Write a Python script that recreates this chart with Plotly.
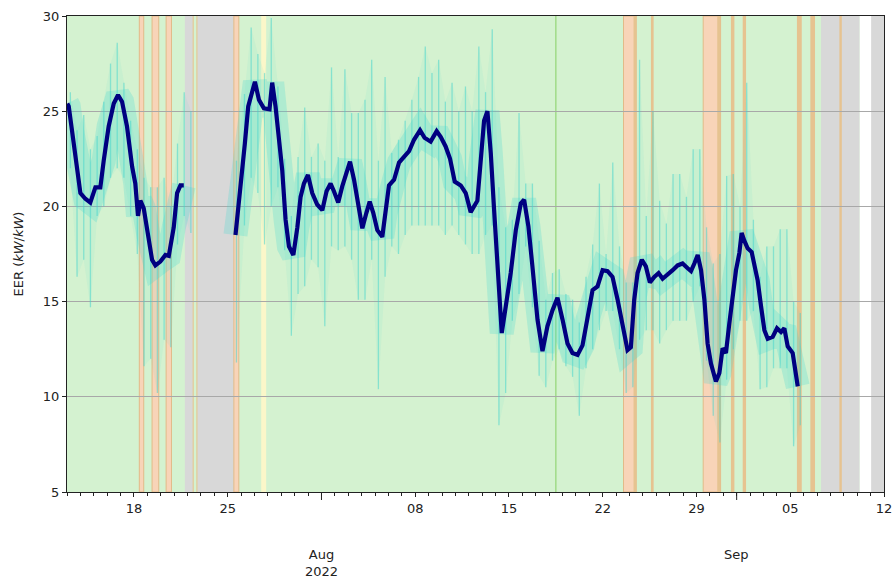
import pandas as pd
import plotly.graph_objects as go

START = pd.Timestamp("2022-07-13")
X_END_DAY = 61.0

# ---- smoothed EER (navy line): day offset from START, value (None = gap)
line_day = [0.02, 0.13, 0.37, 0.62, 1.0, 1.37, 1.74, 2.12, 2.49, 2.74, 3.11, 3.49, 3.81, 4.11, 4.48,
            4.86, 5.1, 5.3, 5.48, 5.73, 6.1, 6.35, 6.6, 6.97, 7.35, 7.6, 7.97, 8.22, 8.47, 8.72,
            10.6,
            12.58, 12.83, 13.08, 13.28, 13.53, 13.78, 14.03, 14.33, 14.7, 15.12, 15.32, 15.57, 15.82,
            16.07, 16.32, 16.57, 16.9, 17.2, 17.44, 17.69, 17.99, 18.31, 18.68, 19.06, 19.38, 19.68,
            19.93, 20.25, 20.55, 20.8, 21.13, 21.43, 21.73, 22.05, 22.35, 22.6, 22.87, 23.17, 23.54,
            23.79, 24.04, 24.42, 24.79, 25.16, 25.54, 25.91, 26.36, 26.7, 27.15, 27.6, 27.9, 28.27,
            28.6, 28.95, 29.4, 29.77, 30.14, 30.64, 30.89, 31.14, 31.39, 31.64, 31.89, 32.14, 32.46,
            32.76, 33.13, 33.51, 33.88, 34.13, 34.45, 34.75, 35.13, 35.5, 35.87, 36.25, 36.62, 37.0,
            37.37, 37.74, 38.12, 38.49, 38.86, 39.24, 39.61, 39.99, 40.36, 40.73, 41.11, 41.48, 41.85,
            42.1, 42.35, 42.6, 42.92, 43.22, 43.52, 43.85, 44.17, 44.47, 44.84, 45.22, 45.59, 45.96,
            46.34, 46.59, 46.84, 47.09, 47.34, 47.59, 47.83, 48.08, 48.45, 48.71, 48.95, 49.2, 49.45,
            49.7, 49.95, 50.2, 50.37, 50.57, 50.82, 51.12, 51.37, 51.57, 51.82, 52.07, 52.32, 52.69,
            53.01, 53.31, 53.56, 53.81, 54.18, 54.36, 54.56]
line_eer = [25.4, 25.25, 24.0, 22.6, 20.7, 20.4, 20.2, 21.0, 21.0, 22.4, 24.2, 25.4, 25.85, 25.5, 24.2,
            22.1, 21.2, 19.5, 20.3, 19.9, 18.4, 17.2, 16.9, 17.1, 17.45, 17.4, 18.9, 20.7, 21.1, 21.1,
            None,
            18.5, 20.2, 21.6, 23.3, 25.25, 25.95, 26.55, 25.6, 25.15, 25.1, 26.5, 25.25, 23.7,
            21.9, 19.3, 17.9, 17.45, 18.9, 20.5, 21.2, 21.65, 20.7, 20.1, 19.8, 20.8, 21.2,
            20.8, 20.2, 21.05, 21.65, 22.35, 21.4, 20.0, 18.85, 19.65, 20.25, 19.65, 18.75, 18.4,
            19.65, 21.1, 21.4, 22.3, 22.6, 22.9, 23.5, 24.0, 23.6, 23.4, 23.95, 23.65, 23.15,
            22.5, 21.3, 21.1, 20.7, 19.7, 20.3, 22.4, 24.5, 25.0, 22.8, 19.8, 16.85, 13.35,
            14.75, 16.5, 18.75, 20.15, 20.35, 18.95, 16.85, 14.05, 12.4, 13.7, 14.55, 15.2, 14.05,
            12.8, 12.3, 12.2, 12.7, 14.05, 15.6, 15.8, 16.65, 16.6, 16.3, 15.1, 13.7, 12.45,
            12.6, 15.1, 16.5, 17.2, 16.85, 16.0, 16.3, 16.5, 16.2, 16.4, 16.65, 16.9, 17.0,
            16.75, 16.6, 17.0, 17.45, 16.65, 15.1, 12.8, 11.75, 10.8, 11.25, 12.55, 12.3, 13.85,
            15.45, 16.65, 17.55, 18.6, 18.2, 17.8, 17.6, 16.85, 16.1, 14.75, 13.5, 13.05, 13.15,
            13.6, 13.4, 13.6, 12.65, 12.3, 11.4, 10.55]

# ---- raw EER cloud (cyan): half-day bin centres, observed min / max
cloud_day = [0.25, 0.75, 1.25, 1.75, 2.25, 2.75, 3.25, 3.75, 4.25, 4.75, 5.25, 5.75, 6.25, 6.75,
             7.25, 7.75, 8.25, 8.75, 9.25,
             12.65, 13.25, 13.75, 14.25, 14.75, 15.25, 15.75, 16.25, 16.75, 17.25, 17.75, 18.25,
             18.75, 19.25, 19.75, 20.25, 20.75, 21.25, 21.75, 22.25, 22.75, 23.25, 23.75, 24.25,
             24.75, 25.25, 25.75, 26.25, 26.75, 27.25, 27.75, 28.25, 28.75, 29.25, 29.75, 30.25,
             30.75, 31.25, 31.75, 32.25, 32.75, 33.25, 33.75, 34.25, 34.75, 35.25, 35.75, 36.25,
             36.75, 37.25, 37.75, 38.25, 38.75, 39.25, 39.75, 40.25, 40.75, 41.25, 41.75, 42.25,
             42.75, 43.25, 43.75, 44.25, 44.75, 45.25, 45.75, 46.25, 46.75, 47.25, 47.75, 48.25,
             48.75, 49.25, 49.75, 50.25, 50.75, 51.25, 51.75, 52.25, 52.75, 53.25, 53.75, 54.25,
             54.75]
cloud_lo = [22.0, 16.3, 17.2, 14.7, 19.5, 20.0, 21.5, 22.0, 21.5, 19.5, 17.5, 11.6, 12.0, 10.2,
            13.0, 12.6, 18.0, 19.5, 18.6,
            11.8, 19.0, 21.5, 20.7, 18.0, 20.0, 21.0, 17.7, 13.2, 15.4, 15.8, 17.2,
            16.8, 13.7, 17.9, 17.7, 17.9, 17.2, 15.1, 15.1, 17.2, 10.4, 16.3, 17.9,
            17.5, 18.5, 19.0, 19.0, 19.0, 19.0, 19.0, 18.5, 19.0, 18.5, 18.0, 17.5,
            17.5, 18.5, 19.0, 8.5, 10.2, 14.0, 15.4, 17.9, 14.7, 11.1, 10.5, 11.9,
            12.5, 11.6, 11.05, 9.0, 11.5, 12.5, 13.5, 14.5, 14.5, 12.5, 10.2, 10.5,
            13.0, 13.5, 13.5, 12.8, 13.5, 14.0, 14.0, 14.0, 15.0, 15.8, 11.9, 9.0,
            7.6, 10.9, 12.5, 14.0, 14.0, 14.5, 10.4, 10.5, 11.5, 11.5, 11.5, 7.4,
            8.5]
cloud_hi = [26.0, 24.0, 24.8, 23.0, 23.7, 25.5, 27.5, 28.6, 26.5, 24.5, 23.0, 21.5, 21.0, 21.0,
            21.5, 20.0, 23.3, 26.0, 25.0,
            22.4, 25.9, 29.4, 28.0, 27.0, 29.9, 26.3, 22.5, 19.5, 22.6, 25.2, 22.6,
            23.3, 22.4, 27.3, 22.6, 27.2, 24.9, 24.9, 25.6, 27.7, 22.4, 26.8, 22.8,
            23.5, 24.5, 25.6, 26.8, 28.4, 27.0, 27.7, 25.5, 26.5, 25.0, 26.3, 25.0,
            28.4, 26.0, 29.3, 21.0, 18.9, 19.3, 24.9, 21.2, 21.2, 18.2, 15.1, 16.5,
            16.7, 15.4, 15.1, 13.9, 16.3, 18.0, 21.2, 17.5, 22.3, 17.9, 16.0, 16.0,
            27.7, 19.5, 25.0, 20.3, 19.1, 21.7, 21.7, 20.5, 23.0, 23.0, 18.9, 17.0,
            17.5, 21.6, 21.7, 20.0, 26.5, 19.3, 16.3, 17.9, 17.9, 18.8, 18.8, 15.0,
            14.4]

# ---- operating-state background periods (day offsets)
normal_period = [(0.0, 59.17)]
offline_periods = [(8.8, 9.4), (9.72, 12.46), (56.3, 59.17), (60.04, 61.0)]
alarm_periods = [(5.40, 5.73), (6.35, 6.85), (7.40, 7.80), (12.46, 12.83), (41.55, 42.5), (47.5, 48.8)]
event_periods = [(9.38, 9.46), (9.66, 9.74), (42.3, 42.5), (43.6, 43.8), (48.55, 48.8), (49.57, 49.83),
                 (50.45, 50.7), (54.5, 54.86), (55.5, 55.85), (57.67, 57.85)]
warning_periods = [(14.5, 14.87)]
marker_day = [36.5]

week_ticks = [5, 12, 26, 33, 40, 47, 54, 61]
week_labels = ["18", "25", "08", "15", "22", "29", "05", "12"]
month_ticks = [19, 50]
month_labels = ["Aug<br>2022", "Sep"]


def T(d):
    return START + pd.Timedelta(days=d)


fig = go.Figure()

# cloud haze (split into continuous segments)
segs, cur = [], [0]
for i in range(1, len(cloud_day)):
    if cloud_day[i] - cloud_day[i - 1] > 1.0:
        segs.append(cur)
        cur = []
    cur.append(i)
segs.append(cur)
for seg in segs:
    xs = [T(cloud_day[i]) for i in seg] + [T(cloud_day[i]) for i in reversed(seg)]
    ys = [cloud_hi[i] for i in seg] + [cloud_lo[i] for i in reversed(seg)]
    fig.add_trace(go.Scatter(x=xs, y=ys, fill="toself", mode="lines", line=dict(width=0),
                             fillcolor="rgba(64,216,208,0.08)", hoverinfo="skip", showlegend=False))

# cloud streaks
sx, sy = [], []
for d, lo, hi in zip(cloud_day, cloud_lo, cloud_hi):
    sx += [T(d), T(d), None]
    sy += [lo, hi, None]
fig.add_trace(go.Scatter(x=sx, y=sy, mode="lines", line=dict(color="rgba(64,212,206,0.5)", width=1.3),
                         hoverinfo="skip", showlegend=False))

# dense core around the smoothed curve
lx = [T(d) for d in line_day]
fig.add_trace(go.Scatter(x=lx, y=line_eer, mode="lines", connectgaps=False,
                         line=dict(color="rgba(64,216,208,0.25)", width=24),
                         hoverinfo="skip", showlegend=False))
# smoothed line
fig.add_trace(go.Scatter(x=lx, y=line_eer, mode="lines", connectgaps=False,
                         line=dict(color="#000080", width=4.2), showlegend=False))

shapes = []


def vband(a, b, fill, line=None, lw=0):
    shapes.append(dict(type="rect", xref="x", yref="paper", x0=T(a), x1=T(b), y0=0, y1=1,
                       fillcolor=fill, line=dict(width=lw, color=line or fill), layer="below"))


for a, b in normal_period:
    vband(a, b, "#d4f2d0")
for a, b in offline_periods:
    vband(a, b, "#d8d8d8")
for a, b in warning_periods:
    vband(a, b, "#fbf7c9")
for a, b in alarm_periods:
    vband(a, b, "#f8d4b8", "#e2ba88", 1)
for a, b in event_periods:
    vband(a, b, "#e6c390")
for d in marker_day:
    shapes.append(dict(type="line", xref="x", yref="paper", x0=T(d), x1=T(d), y0=0, y1=1,
                       line=dict(color="#93d677", width=1.2), layer="below"))
for d in month_ticks:
    shapes.append(dict(type="line", xref="x", yref="paper", x0=T(d), x1=T(d), y0=0, y1=-8 / 476,
                       line=dict(color="#222", width=1)))

annotations = []
for d, lab in zip(month_ticks, month_labels):
    annotations.append(dict(x=T(d), y=-53 / 476, xref="x", yref="paper", text=lab, showarrow=False,
                            xanchor="center", yanchor="top",
                            font=dict(family="DejaVu Sans", size=13, color="#222")))

fig.update_layout(
    width=896, height=587,
    margin=dict(l=67, r=12, t=16, b=95, autoexpand=False),
    paper_bgcolor="white", plot_bgcolor="white",
    shapes=shapes, annotations=annotations,
    font=dict(family="DejaVu Sans", size=13, color="#222"),
    xaxis=dict(range=[T(0), T(X_END_DAY)], tickvals=[T(d) for d in week_ticks], ticktext=week_labels,
               ticks="outside", ticklen=4, tickcolor="#222", showgrid=False, zeroline=False,
               showline=True, linecolor="#222", linewidth=1, mirror=True, automargin=False,
               minor=dict(dtick=86400000, tick0=START, ticks="outside", ticklen=3, tickcolor="#222",
                          showgrid=False)),
    yaxis=dict(range=[5, 30], tickvals=[5, 10, 15, 20, 25, 30], ticks="outside", ticklen=4,
               tickcolor="#222", showgrid=True, gridcolor="#a8a8a8", gridwidth=1, zeroline=False,
               showline=True, linecolor="#222", linewidth=1, mirror=True, automargin=False,
               title=dict(text="EER (<i>kW</i>/<i>kW</i>)", font=dict(size=13), standoff=16)),
)

fig.write_html("out.html")
